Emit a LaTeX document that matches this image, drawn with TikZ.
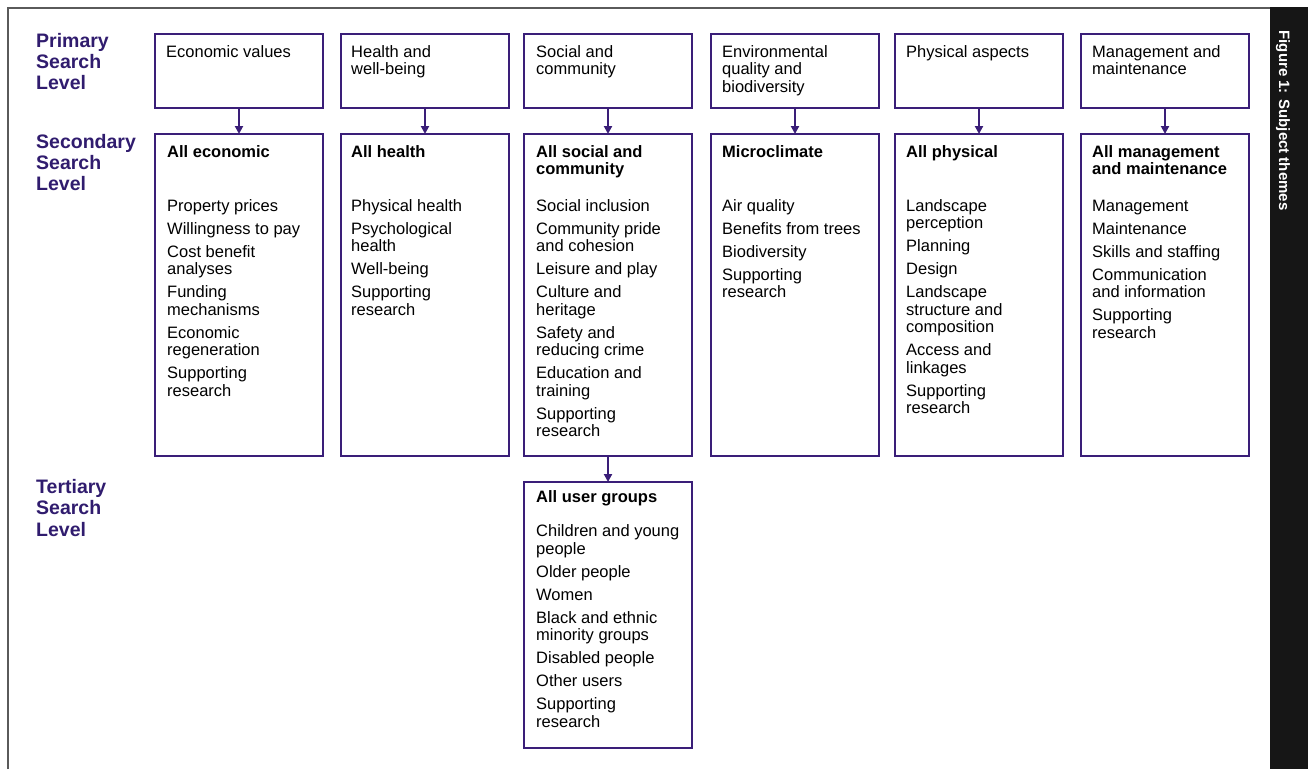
\documentclass[tikz,border=0pt]{standalone}
\usepackage{fontspec}
\setmainfont{Liberation Sans}
\usetikzlibrary{arrows.meta}
\definecolor{boxc}{RGB}{58,30,120}
\definecolor{labc}{RGB}{48,28,110}
\definecolor{framec}{RGB}{90,90,90}
\definecolor{barc}{RGB}{22,22,22}
\newcommand\boxtext[1]{\begin{tabular}[t]{@{}l@{}}#1\end{tabular}}
\tikzset{
  box/.style={draw=boxc, line width=2pt, inner sep=0pt, outer sep=0pt, anchor=north west, minimum width=168pt},
  pbox/.style={box, minimum height=74pt},
  sbox/.style={box, minimum height=322pt},
  tbox/.style={box, minimum height=266pt},
  txt/.style={anchor=base west, inner sep=0pt, text=black, font=\fontsize{16.5}{17.5}\selectfont},
  head/.style={txt, font=\fontsize{16.5}{17.5}\selectfont\bfseries},
  lab/.style={anchor=base west, inner sep=0pt, text=labc, font=\fontsize{19.5}{21.3}\selectfont\bfseries},
  arr/.style={draw=boxc, line width=2pt, -{Triangle[length=8pt,width=8pt]}},
}
\begin{document}
\begin{tikzpicture}[x=1pt,y=-1pt]
\useasboundingbox (0,0) rectangle (1308,769);
% frame and side bar
\draw[framec, line width=2pt] (8,769) -- (8,8) -- (1270,8);
\fill[barc] (1270,7) rectangle (1308,769);
\node[rotate=-90, text=white, inner sep=0pt, font=\fontsize{15}{17}\selectfont\bfseries] (fig) at (1283,120.5) {Figure 1: Subject themes};
% level labels
\node[lab] (lp) at (36,47) {\boxtext{Primary\\Search\\Level}};
\node[lab] (ls) at (36,148) {\boxtext{Secondary\\Search\\Level}};
\node[lab] (lt) at (36,493.5) {\boxtext{Tertiary\\Search\\Level}};
% primary boxes
\node[pbox] (p1) at (155,34) {};
\node[pbox] (p2) at (341,34) {};
\node[pbox] (p3) at (524,34) {};
\node[pbox] (p4) at (711,34) {};
\node[pbox] (p5) at (895,34) {};
\node[pbox] (p6) at (1081,34) {};
\node[txt] (p1t) at (166,57) {\boxtext{Economic values}};
\node[txt] (p2t) at (351,57) {\boxtext{Health and\\well-being}};
\node[txt] (p3t) at (536,57) {\boxtext{Social and\\community}};
\node[txt] (p4t) at (722,57) {\boxtext{Environmental\\quality and\\biodiversity}};
\node[txt] (p5t) at (906,57) {\boxtext{Physical aspects}};
\node[txt] (p6t) at (1092,57) {\boxtext{Management and\\maintenance}};
% secondary boxes
\node[sbox] (s1) at (155,134) {};
\node[sbox] (s2) at (341,134) {};
\node[sbox] (s3) at (524,134) {};
\node[sbox] (s4) at (711,134) {};
\node[sbox] (s5) at (895,134) {};
\node[sbox] (s6) at (1081,134) {};
\node[head] (s1h) at (167,157) {\boxtext{All economic}};
\node[head] (s2h) at (351,157) {\boxtext{All health}};
\node[head] (s3h) at (536,157) {\boxtext{All social and\\community}};
\node[head] (s4h) at (722,157) {\boxtext{Microclimate}};
\node[head] (s5h) at (906,157) {\boxtext{All physical}};
\node[head] (s6h) at (1092,157) {\boxtext{All management\\and maintenance}};
\node[txt] (s1i) at (167,211) {\boxtext{Property prices\\[5.5pt]Willingness to pay\\[5.5pt]Cost benefit\\analyses\\[5.5pt]Funding\\mechanisms\\[5.5pt]Economic\\regeneration\\[5.5pt]Supporting\\research}};
\node[txt] (s2i) at (351,211) {\boxtext{Physical health\\[5.5pt]Psychological\\health\\[5.5pt]Well-being\\[5.5pt]Supporting\\research}};
\node[txt] (s3i) at (536,211) {\boxtext{Social inclusion\\[5.5pt]Community pride\\and cohesion\\[5.5pt]Leisure and play\\[5.5pt]Culture and\\heritage\\[5.5pt]Safety and\\reducing crime\\[5.5pt]Education and\\training\\[5.5pt]Supporting\\research}};
\node[txt] (s4i) at (722,211) {\boxtext{Air quality\\[5.5pt]Benefits from trees\\[5.5pt]Biodiversity\\[5.5pt]Supporting\\research}};
\node[txt] (s5i) at (906,211) {\boxtext{Landscape\\perception\\[5.5pt]Planning\\[5.5pt]Design\\[5.5pt]Landscape\\structure and\\composition\\[5.5pt]Access and\\linkages\\[5.5pt]Supporting\\research}};
\node[txt] (s6i) at (1092,211) {\boxtext{Management\\[5.5pt]Maintenance\\[5.5pt]Skills and staffing\\[5.5pt]Communication\\and information\\[5.5pt]Supporting\\research}};
% tertiary box
\node[tbox] (t3) at (524,482) {};
\node[head] (t3h) at (536,502.5) {\boxtext{All user groups}};
\node[txt] (t3i) at (536,536.5) {\boxtext{Children and young\\people\\[5.5pt]Older people\\[5.5pt]Women\\[5.5pt]Black and ethnic\\minority groups\\[5.5pt]Disabled people\\[5.5pt]Other users\\[5.5pt]Supporting\\research}};
% arrows
\draw[arr] (p1.south) -- (s1.north);
\draw[arr] (p2.south) -- (s2.north);
\draw[arr] (p3.south) -- (s3.north);
\draw[arr] (p4.south) -- (s4.north);
\draw[arr] (p5.south) -- (s5.north);
\draw[arr] (p6.south) -- (s6.north);
\draw[arr] (s3.south) -- (t3.north);
\end{tikzpicture}
\end{document}
